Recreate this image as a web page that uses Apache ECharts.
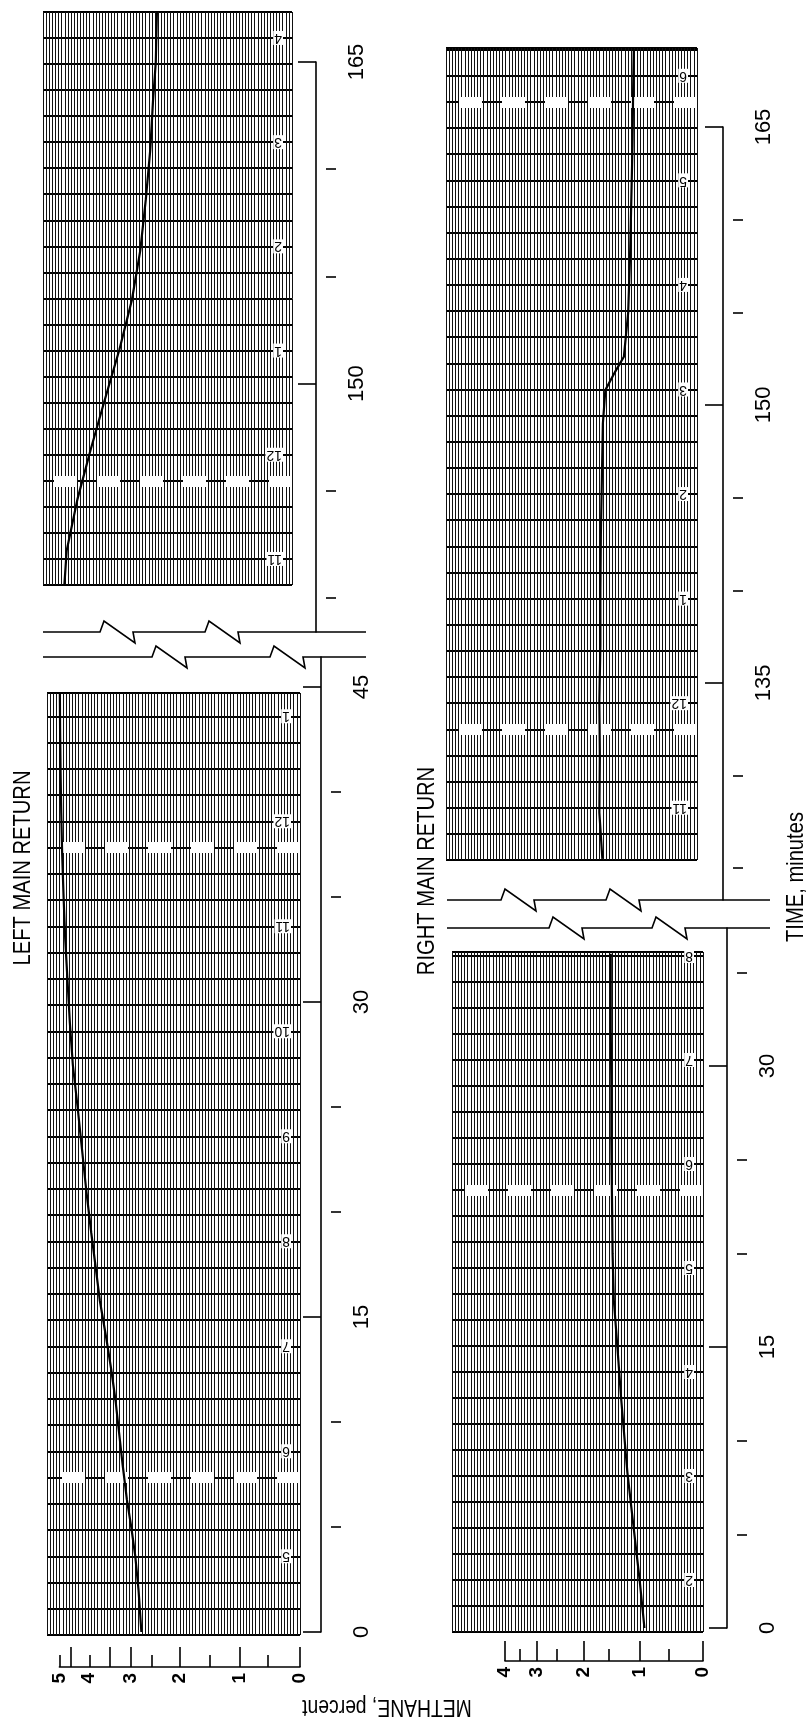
<!DOCTYPE html>
<html>
<head>
<meta charset="utf-8">
<title>Methane, left and right main returns</title>
<script src="https://cdn.jsdelivr.net/npm/echarts@6.0.0/dist/echarts.min.js"></script>
<style>
  html, body { margin: 0; padding: 0; background: #fff; }
  #main { width: 808px; height: 1722px; }
</style>
</head>
<body>
<div id="main"></div>
<script>
// time in minutes, methane in percent
const leftLowTime  = [0, 2, 3.6, 5, 6.3, 8, 9.5, 11, 12.5, 14, 15.8, 17.5, 19, 21, 23, 25, 27, 29, 31, 33, 35, 37, 39, 41, 43, 44.7];
const leftLowCh4   = [2.75, 2.82, 2.9, 3.0, 3.1, 3.2, 3.28, 3.36, 3.46, 3.58, 3.74, 3.85, 3.95, 4.08, 4.2, 4.32, 4.45, 4.55, 4.65, 4.75, 4.82, 4.88, 4.92, 4.95, 4.97, 4.98];
const leftHighTime = [140.6, 142.2, 144.6, 146.9, 149.2, 151.6, 153.9, 156.2, 158.6, 160.9, 163.2, 165, 167.3];
const leftHighCh4  = [4.6, 4.5, 4.2, 3.85, 3.5, 3.15, 2.85, 2.64, 2.5, 2.42, 2.37, 2.32, 2.3];
const rightLowTime  = [0, 2.5, 5.1, 8.3, 12.2, 15.8, 17.5, 20, 23, 26, 29, 32, 36];
const rightLowCh4   = [0.92, 1.0, 1.09, 1.2, 1.3, 1.38, 1.42, 1.44, 1.45, 1.46, 1.46, 1.47, 1.47];
const rightHighTime = [125.5, 128, 131, 134, 137, 140, 143, 146, 149, 150.8, 151.8, 152.6, 155, 158, 161, 164, 167, 169.2];
const rightHighCh4  = [1.51, 1.57, 1.56, 1.57, 1.55, 1.55, 1.54, 1.52, 1.5, 1.46, 1.3, 1.16, 1.09, 1.06, 1.04, 1.02, 1.01, 1.0];

// the recorder's methane scale is not linear: where each value sits,
// in % of the strip width counted from the 0 edge
const ch4TicksLeft   = [0, 0.5, 1, 1.5, 2, 2.5, 3, 3.5, 4, 4.5, 5];
const ch4PlaceLeft   = [0, 12.6, 23.7, 35.6, 47.6, 58.7, 66.7, 75.3, 83.3, 90.5, 95.1];
const ch4LongLeft    = [0, 1, 2, 3, 3.5, 4.5];
const ch4LabelsLeft  = [0, 1, 2, 3, 4, 5];
const ch4TicksRight  = [0, 0.5, 1, 1.5, 2, 2.5, 3, 3.5, 4];
const ch4PlaceRight  = [0, 13.5, 25.2, 37.5, 47.5, 58.2, 66.4, 73.0, 78.9];
const ch4LongRight   = [0, 1, 2, 3, 4];
const ch4LabelsRight = [0, 1, 2, 3, 4];

// time axis ticks, labelled every 15 min
const timeTicksLeftLow   = [0, 5, 10, 15, 20, 25, 30, 35, 40, 45];
const timeTicksLeftHigh  = [140, 145, 150, 155, 160, 165];
const timeTicksRightLow  = [0, 5, 10, 15, 20, 25, 30, 35];
const timeTicksRightHigh = [125, 130, 135, 140, 145, 150, 155, 160, 165];

// clock hours printed on the chart paper
const clockLeftLow   = ['5', '6', '7', '8', '9', '10', '11', '12', '1'];
const clockLeftHigh  = ['11', '12', '1', '2', '3', '4'];
const clockRightLow  = ['2', '3', '4', '5', '6', '7', '8'];
const clockRightHigh = ['11', '12', '1', '2', '3', '4', '5', '6'];

const FONT = "'Liberation Sans', Arial, sans-serif";

function toPlace (v, ticks, place) {
  for (let i = 1; i < ticks.length; i++) {
    if (v <= ticks[i]) {
      const f = (v - ticks[i - 1]) / (ticks[i] - ticks[i - 1]);
      return place[i - 1] + f * (place[i] - place[i - 1]);
    }
  }
  return place[place.length - 1];
}

// page layout of each strip: box [left, top, right, bottom], minute scale, axis
const strips = [
  { time: leftLowTime, ch4: leftLowCh4, ticks: ch4TicksLeft, place: ch4PlaceLeft,
    box: [47, 693, 300, 1635], ppm: 21.0, tRef: 0, yRef: 1632,
    rowPx: 26.25, clock: clockLeftLow, clockRow: 3, whiteRows: [6, 30],
    axisX: 341, axisSpan: [657, 1632], timeTicks: timeTicksLeftLow,
    scale: { y: 1667, long: ch4LongLeft, labels: ch4LabelsLeft } },
  { time: leftHighTime, ch4: leftHighCh4, ticks: ch4TicksLeft, place: ch4PlaceLeft,
    box: [43, 12, 292, 585], ppm: 21.44, tRef: 165, yRef: 62,
    rowPx: 26.05, clock: clockLeftHigh, clockRow: 1, whiteRows: [4],
    axisX: 336, axisSpan: [62, 632], timeTicks: timeTicksLeftHigh },
  { time: rightLowTime, ch4: rightLowCh4, ticks: ch4TicksRight, place: ch4PlaceRight,
    box: [452, 952, 703, 1632], ppm: 18.73, tRef: 0, yRef: 1628,
    rowPx: 26.0, clock: clockRightLow, clockRow: 2, whiteRows: [17],
    axisX: 747, axisSpan: [928, 1628], timeTicks: timeTicksRightLow,
    scale: { y: 1661, long: ch4LongRight, labels: ch4LabelsRight } },
  { time: rightHighTime, ch4: rightHighCh4, ticks: ch4TicksRight, place: ch4PlaceRight,
    box: [446, 48, 697, 860], ppm: 18.53, tRef: 165, yRef: 127,
    rowPx: 26.14, clock: clockRightHigh, clockRow: 2, whiteRows: [5, 29],
    axisX: 743, axisSpan: [127, 900], timeTicks: timeTicksRightHigh }
];

const grid = [], xAxis = [], yAxis = [], series = [];
const ink = { color: '#000', width: 1.6 };

strips.forEach(s => {
  const [l, t, r, b] = s.box;
  // chart paper with the record on it
  const g = grid.length;
  grid.push({ left: l, top: t, width: r - l, height: b - t, outerBoundsMode: 'none' });
  xAxis.push({
    type: 'value', gridIndex: g, min: 0, max: 100, inverse: true, interval: 1.25,
    axisLine: { show: false }, axisTick: { show: false }, axisLabel: { show: false },
    splitLine: { show: true, lineStyle: { color: '#111', width: 1 } }
  });
  const xi = xAxis.length - 1;
  yAxis.push({
    type: 'value', gridIndex: g, show: false,
    min: s.tRef - (b - s.yRef) / s.ppm, max: s.tRef + (s.yRef - t) / s.ppm
  });
  const yTime = yAxis.length - 1;
  yAxis.push({
    type: 'value', gridIndex: g, position: 'right', min: 0, max: (b - t) / s.rowPx, interval: 1,
    axisLine: { show: false }, axisTick: { show: false },
    splitLine: { show: true, lineStyle: { color: '#000', width: 1.8 } },
    axisLabel: {
      inside: true, rotate: 180, margin: 9, color: '#000', fontFamily: FONT, fontSize: 14,
      backgroundColor: '#fff', padding: [0, 1],
      customValues: s.clock.map((c, i) => s.clockRow + 4 * i),
      formatter: v => s.clock[Math.round((v - s.clockRow) / 4)] || ''
    }
  });
  const yRows = yAxis.length - 1;
  series.push({
    type: 'line', xAxisIndex: xi, yAxisIndex: yRows, data: [], z: 3, silent: true,
    markLine: {
      silent: true, symbol: 'none', label: { show: false }, animation: false,
      lineStyle: { color: '#fff', width: 11, type: [23, 20], opacity: 1 },
      data: s.whiteRows.map(rw => ({ yAxis: rw }))
    }
  });
  series.push({
    type: 'line', xAxisIndex: xi, yAxisIndex: yTime, z: 5,
    data: s.time.map((tt, i) => [toPlace(s.ch4[i], s.ticks, s.place), tt]),
    showSymbol: false, symbol: 'none', lineStyle: { color: '#000', width: 2.2 }
  });

  // time axis beside the strip
  const ga = grid.length;
  const [aTop, aBot] = s.axisSpan;
  grid.push({ left: s.axisX - 20, top: aTop, width: 20, height: aBot - aTop, outerBoundsMode: 'none' });
  xAxis.push({ type: 'value', gridIndex: ga, show: false, min: 0, max: 1 });
  const aMin = s.tRef - (aBot - s.yRef) / s.ppm;
  const aMax = s.tRef + (s.yRef - aTop) / s.ppm;
  const major = s.timeTicks.filter(v => v % 15 === 0);
  const minor = s.timeTicks.filter(v => v % 15 !== 0);
  yAxis.push({
    type: 'value', gridIndex: ga, position: 'right', min: aMin, max: aMax,
    axisLine: { show: true, lineStyle: ink },
    axisTick: { show: true, inside: true, length: 18, lineStyle: ink, customValues: major },
    axisLabel: { rotate: 90, margin: 10, color: '#000', fontFamily: FONT, fontSize: 22, customValues: major },
    splitLine: { show: false }
  });
  yAxis.push({
    type: 'value', gridIndex: ga, position: 'right', min: aMin, max: aMax,
    axisLine: { show: false },
    axisTick: { show: true, inside: true, length: 10, lineStyle: ink, customValues: minor },
    axisLabel: { show: false }, splitLine: { show: false }
  });

  // methane scale under the lower strips
  if (s.scale) {
    const gm = grid.length;
    const w = r - l;
    const pMax = s.place[s.place.length - 1];
    grid.push({ left: r - pMax / 100 * w, top: s.scale.y - 24, width: pMax / 100 * w, height: 24, outerBoundsMode: 'none' });
    yAxis.push({ type: 'value', gridIndex: gm, show: false, min: 0, max: 1 });
    const longAt = s.scale.long.map(v => toPlace(v, s.ticks, s.place));
    const shortAt = s.ticks.filter(v => s.scale.long.indexOf(v) < 0).map(v => toPlace(v, s.ticks, s.place));
    const labelAt = s.scale.labels.map(v => toPlace(v, s.ticks, s.place));
    xAxis.push({
      type: 'value', gridIndex: gm, position: 'bottom', inverse: true, min: 0, max: pMax,
      axisLine: { show: true, lineStyle: ink },
      axisTick: { show: true, inside: true, length: 20, lineStyle: ink, customValues: longAt },
      axisLabel: {
        rotate: 90, margin: 6, color: '#000', fontFamily: FONT, fontSize: 19, fontWeight: 'bold',
        customValues: labelAt,
        formatter: v => {
          const i = labelAt.findIndex(p => Math.abs(p - v) < 1e-6);
          return i < 0 ? '' : String(s.scale.labels[i]);
        }
      },
      splitLine: { show: false }
    });
    xAxis.push({
      type: 'value', gridIndex: gm, position: 'bottom', inverse: true, min: 0, max: pMax,
      axisLine: { show: false },
      axisTick: { show: true, inside: true, length: 12, lineStyle: ink, customValues: shortAt },
      axisLabel: { show: false }, splitLine: { show: false }
    });
  }
});

// axis break marks
function breakLine (y, x0, x1, jags) {
  const pts = [[x0, y]];
  jags.forEach(j => { pts.push([j, y], [j + 4, y - 11], [j + 35, y + 11], [j + 33, y]); });
  pts.push([x1, y]);
  return { type: 'polyline', shape: { points: pts }, style: { stroke: '#000', lineWidth: 1.6, fill: null }, z: 10 };
}

// narrow upright lettering: squeeze along the baseline
const title = (text, x, y, rot, size) => ({
  type: 'text', x, y, rotation: rot, scaleX: 0.84, z: 10,
  style: { text, fill: '#000', font: `${size}px ${FONT}`, align: 'center', verticalAlign: 'middle' }
});

const chart = echarts.init(document.getElementById('main'));
chart.setOption({
  animation: false,
  backgroundColor: '#fff',
  grid, xAxis, yAxis, series,
  graphic: [
    breakLine(632, 43, 366, [100, 205]),
    breakLine(657, 43, 366, [152, 270]),
    breakLine(900, 447, 770, [501, 606]),
    breakLine(928, 447, 770, [549, 652]),
    title('LEFT MAIN RETURN', 23, 868, Math.PI / 2, 24),
    title('RIGHT MAIN RETURN', 427, 871, Math.PI / 2, 24),
    title('TIME, minutes', 796, 877, Math.PI / 2, 24),
    title('METHANE, percent', 387, 1706, Math.PI, 23)
  ]
});
</script>
</body>
</html>
